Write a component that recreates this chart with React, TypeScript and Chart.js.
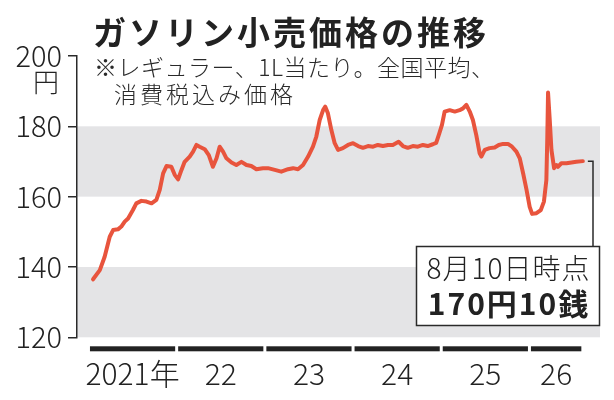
import React, { useEffect, useRef } from "react";
import { Chart, registerables } from "chart.js";

Chart.register(...registerables);

// ---- data ----
const DATES = [
  "2021-01-20", "2021-02-17", "2021-03-09", "2021-03-30", "2021-04-13", "2021-05-03",
  "2021-05-17", "2021-05-31", "2021-06-14", "2021-07-04", "2021-07-18", "2021-08-08",
  "2021-08-29", "2021-09-19", "2021-10-09", "2021-10-23", "2021-11-06", "2021-11-20",
  "2021-12-10", "2021-12-24", "2022-01-07", "2022-01-21", "2022-02-03", "2022-02-24",
  "2022-03-10", "2022-03-24", "2022-04-06", "2022-04-27", "2022-05-14", "2022-05-31",
  "2022-06-15", "2022-06-28", "2022-07-12", "2022-07-26", "2022-08-16", "2022-09-05",
  "2022-09-26", "2022-10-17", "2022-11-06", "2022-11-27", "2022-12-24", "2023-01-14",
  "2023-02-11", "2023-03-10", "2023-04-07", "2023-04-28", "2023-05-18", "2023-06-08",
  "2023-06-29", "2023-07-19", "2023-08-02", "2023-08-16", "2023-08-30", "2023-09-08",
  "2023-09-19", "2023-10-03", "2023-10-17", "2023-10-31", "2023-11-20", "2023-12-11",
  "2024-01-01", "2024-01-22", "2024-02-11", "2024-03-03", "2024-03-24", "2024-04-13",
  "2024-05-04", "2024-05-25", "2024-06-14", "2024-07-08", "2024-07-26", "2024-08-15",
  "2024-09-05", "2024-09-26", "2024-10-17", "2024-11-06", "2024-11-27", "2024-12-11",
  "2024-12-24", "2025-01-04", "2025-01-15", "2025-02-05", "2025-02-26", "2025-03-18",
  "2025-04-01", "2025-04-15", "2025-04-29", "2025-05-12", "2025-05-26", "2025-06-09",
  "2025-06-16", "2025-06-30", "2025-07-20", "2025-08-10", "2025-08-27", "2025-09-14",
  "2025-10-04", "2025-10-21", "2025-11-08", "2025-11-22", "2025-12-06", "2025-12-20",
  "2026-01-02", "2026-01-12", "2026-01-30", "2026-02-17", "2026-03-02", "2026-03-12",
  "2026-03-16", "2026-03-19", "2026-03-26", "2026-04-02", "2026-04-13", "2026-04-22",
  "2026-04-29", "2026-05-13", "2026-06-03", "2026-06-24", "2026-07-14", "2026-08-10",
];

const PRICES = [
  136.5, 139.1, 142.9, 148.6, 150.5, 150.7,
  151.5, 152.9, 153.8, 156.2, 158.1, 158.8,
  158.6, 158.1, 159.1, 161.9, 166.6, 168.7,
  168.5, 166.2, 164.9, 167.6, 169.9, 171.4,
  172.8, 174.7, 174.2, 173.5, 171.8, 168.5,
  170.9, 174.2, 172.8, 170.9, 169.7, 169.0,
  169.9, 169.0, 168.7, 167.8, 168.1, 168.1,
  167.6, 167.1, 167.8, 168.1, 167.8, 169.0,
  171.4, 174.2, 177.1, 181.8, 184.6, 185.6,
  183.7, 179.0, 175.2, 173.3, 173.8, 174.7,
  175.2, 174.4, 173.9, 174.4, 174.2, 174.7,
  174.4, 174.7, 174.7, 175.6, 174.4, 173.9,
  174.4, 174.2, 174.7, 174.4, 174.9, 175.3,
  178.0, 180.4, 184.2, 184.6, 184.2, 184.6,
  185.1, 186.1, 184.2, 181.8, 177.5, 172.3,
  171.4, 173.3, 173.8, 174.0, 174.7, 175.0,
  175.0, 174.2, 172.8, 170.9, 166.6, 161.9,
  157.1, 155.1, 155.3, 156.2, 158.6, 164.7,
  177.1, 189.6, 181.8, 173.3, 168.1, 169.0,
  168.5, 169.5, 169.5, 169.7, 169.9, 170.1,
];

const Y_TICKS = [120, 140, 160, 180, 200];
const YEARS = [2021, 2022, 2023, 2024, 2025, 2026];
const YEAR_LABELS = ["2021年", "22", "23", "24", "25", "26"];
const BANDS = [
  [120, 140],
  [160, 180],
];
const TITLE = "ガソリン小売価格の推移";
const NOTE_LINE1 = "※レギュラー、1L当たり。全国平均、";
const NOTE_LINE2 = "消費税込み価格";
const UNIT = "円";
const CALLOUT_DATE = "8月10日時点";
const CALLOUT_VALUE = "170円10銭";

// ---- styling ----
const FONT = "'Noto Sans CJK JP', 'Noto Sans', sans-serif";
const LINE_COLOR = "#e8543d";
const BAND_COLOR = "#e4e4e6";
const INK = "#222222";
const AXIS_COLOR = "#2a2a2a";

function toYear(s: string): number {
  const [y, m, d] = s.split("-").map(Number);
  const start = Date.UTC(y, 0, 1);
  const days = (Date.UTC(y, m - 1, d) - start) / 86400000;
  const len = (Date.UTC(y + 1, 0, 1) - start) / 86400000;
  return y + days / len;
}

const POINTS = DATES.map((d, i) => ({ x: toYear(d), y: PRICES[i] }));
const END = POINTS[POINTS.length - 1].x;

const decorPlugin = {
  id: "decor",
  beforeDraw(chart: any) {
    const { ctx, chartArea, scales } = chart;
    const y = scales.y;
    ctx.save();
    ctx.fillStyle = BAND_COLOR;
    BANDS.forEach(([lo, hi]) => {
      const top = y.getPixelForValue(hi);
      const bot = y.getPixelForValue(lo);
      ctx.fillRect(chartArea.left, top, chartArea.right - chartArea.left, bot - top);
    });
    ctx.restore();
  },
  afterDraw(chart: any) {
    const { ctx, chartArea, scales } = chart;
    const x = scales.x;
    const y = scales.y;
    ctx.save();
    // year bars
    ctx.fillStyle = INK;
    YEARS.forEach((yr) => {
      const a = x.getPixelForValue(yr);
      const b = x.getPixelForValue(Math.min(yr + 1, END));
      ctx.fillRect(a + 1.5, chartArea.bottom + 9, b - a - 3, 5);
    });
    // unit label under 200
    ctx.fillStyle = INK;
    ctx.font = `300 26px ${FONT}`;
    ctx.textAlign = "center";
    ctx.textBaseline = "alphabetic";
    ctx.fillText(UNIT, 46, y.getPixelForValue(200) + 36);

    // callout
    const last = POINTS[POINTS.length - 1];
    const px = x.getPixelForValue(last.x);
    const py = y.getPixelForValue(last.y);
    const boxL = 416.5, boxT = 246.5, boxW = 183, boxH = 79;
    ctx.strokeStyle = AXIS_COLOR;
    ctx.lineWidth = 1.5;
    ctx.beginPath();
    ctx.moveTo(px + 5, py);
    ctx.lineTo(593, py);
    ctx.lineTo(593, boxT);
    ctx.stroke();
    ctx.fillStyle = "#ffffff";
    ctx.fillRect(boxL, boxT, boxW, boxH);
    ctx.strokeRect(boxL, boxT, boxW, boxH);
    ctx.fillStyle = INK;
    ctx.textAlign = "center";
    (ctx as any).letterSpacing = "1px";
    ctx.font = `300 28px ${FONT}`;
    ctx.fillText(CALLOUT_DATE, boxL + boxW / 2 + 0.5, boxT + 32);
    (ctx as any).letterSpacing = "2px";
    ctx.font = `bold 30px ${FONT}`;
    ctx.fillText(CALLOUT_VALUE, boxL + boxW / 2 + 1, boxT + 68);
    (ctx as any).letterSpacing = "0px";
    ctx.restore();
  },
};

export default function App() {
  const ref = useRef<HTMLCanvasElement | null>(null);

  useEffect(() => {
    if (!ref.current) return;
    const chart = new Chart(ref.current, {
      type: "line",
      data: {
        datasets: [
          {
            data: POINTS,
            borderColor: LINE_COLOR,
            borderWidth: 4,
            pointRadius: 0,
            tension: 0,
            borderJoinStyle: "round",
            borderCapStyle: "round",
            fill: false,
          },
        ],
      },
      options: {
        animation: false,
        responsive: false,
        devicePixelRatio: 1,
        layout: { padding: { top: 56, right: 14, bottom: 0, left: 0 } },
        plugins: { legend: { display: false }, tooltip: { enabled: false }, title: { display: false } },
        scales: {
          x: {
            type: "linear",
            min: 2020.87,
            max: 2026.8,
            grid: { display: false, drawTicks: false },
            border: { display: false },
            ticks: {
              autoSkip: false,
              maxRotation: 0,
              padding: 18,
              color: INK,
              font: { family: FONT, size: 30, weight: "300" },
              callback: (_v: any, i: number) => YEAR_LABELS[i],
            },
            afterBuildTicks: (s: any) => {
              s.ticks = YEARS.map((yr) => ({ value: (yr + Math.min(yr + 1, END)) / 2 }));
            },
            afterFit: (s: any) => {
              s.height = 62.7;
            },
          },
          y: {
            min: 120,
            max: 200,
            afterBuildTicks: (s: any) => {
              s.ticks = Y_TICKS.map((v) => ({ value: v }));
            },
            grid: { drawOnChartArea: false, drawTicks: true, tickLength: 9, color: AXIS_COLOR, lineWidth: 1.5 },
            border: { display: true, color: AXIS_COLOR, width: 1.5 },
            ticks: {
              padding: 6,
              color: INK,
              font: { family: FONT, size: 29, weight: "300" },
              callback: (v: any) => String(v),
            },
            afterFit: (s: any) => {
              s.width = 77;
            },
          },
        },
      },
      plugins: [decorPlugin],
    });
    return () => chart.destroy();
  }, []);

  return (
    <div style={{ position: "absolute", left: 0, top: 0, width: 614, height: 400, background: "#fff" }}>
      <canvas ref={ref} width={614} height={400} style={{ position: "absolute", left: 0, top: 0 }} />
      <div
        style={{
          position: "absolute",
          left: 93,
          top: 15,
          fontFamily: FONT,
          fontWeight: "bold",
          fontSize: 33,
          lineHeight: "33px",
          letterSpacing: 3,
          color: INK,
          whiteSpace: "nowrap",
        }}
      >
        {TITLE}
      </div>
      <div
        style={{
          position: "absolute",
          left: 94,
          top: 55,
          fontFamily: FONT,
          fontWeight: 300,
          fontSize: 23,
          lineHeight: "23px",
          letterSpacing: 0.5,
          color: "#2a2a2a",
          whiteSpace: "nowrap",
        }}
      >
        {NOTE_LINE1}
      </div>
      <div
        style={{
          position: "absolute",
          left: 114,
          top: 82,
          fontFamily: FONT,
          fontWeight: 300,
          fontSize: 23,
          lineHeight: "23px",
          letterSpacing: 3,
          color: "#2a2a2a",
          whiteSpace: "nowrap",
        }}
      >
        {NOTE_LINE2}
      </div>
    </div>
  );
}
